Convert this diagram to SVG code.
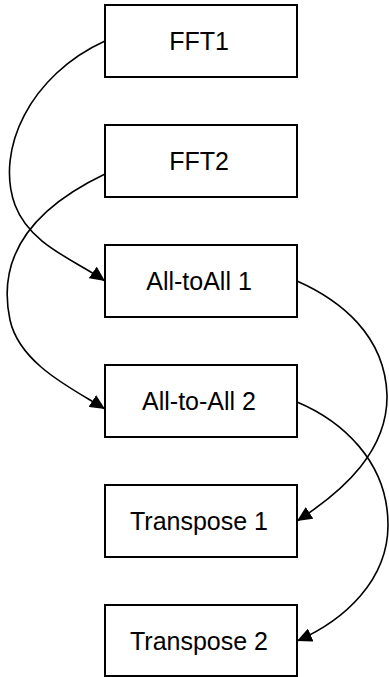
<svg xmlns="http://www.w3.org/2000/svg" width="389" height="677" viewBox="0 0 389 677">
<style>
.box{fill:#fff;stroke:#000;stroke-width:2}
.lbl{font-family:"Liberation Sans",Arial,sans-serif;font-size:25px;fill:#000;text-anchor:middle}
.edge{fill:none;stroke:#000;stroke-width:1.6}
</style>
<defs>
<marker id="arr" markerUnits="userSpaceOnUse" markerWidth="16" markerHeight="14" refX="15" refY="7" orient="auto">
<path d="M0,0 L15,7 L0,14 Z" fill="#000"/>
</marker>
</defs>
<g id="connectors">
<path class="edge" marker-end="url(#arr)" d="M105,41 C30,75 -5,150 15,205 C30,245 75,260 105,281"/>
<path class="edge" marker-end="url(#arr)" d="M105,174 C40,205 -5,250 10,320 C20,365 75,390 105,409"/>
<path class="edge" marker-end="url(#arr)" d="M297,281 C340,300 385,335 387,395 C388,450 345,490 297,521"/>
<path class="edge" marker-end="url(#arr)" d="M297,402 C340,420 388,460 388,525 C388,580 345,620 297,641"/>
</g>
<g id="fft1"><rect class="box" x="105" y="5" width="192" height="72"/><text class="lbl" x="199" y="49.5">FFT1</text></g>
<g id="fft2"><rect class="box" x="105" y="125" width="192" height="72"/><text class="lbl" x="199" y="169.5">FFT2</text></g>
<g id="a2a1"><rect class="box" x="105" y="245" width="192" height="72"/><text class="lbl" x="199" y="289.5">All-toAll 1</text></g>
<g id="a2a2"><rect class="box" x="105" y="365" width="192" height="72"/><text class="lbl" x="199" y="409.5">All-to-All 2</text></g>
<g id="tr1"><rect class="box" x="105" y="485" width="192" height="72"/><text class="lbl" x="199" y="529.5">Transpose 1</text></g>
<g id="tr2"><rect class="box" x="105" y="605" width="192" height="71"/><text class="lbl" x="199" y="649.5">Transpose 2</text></g>
</svg>
